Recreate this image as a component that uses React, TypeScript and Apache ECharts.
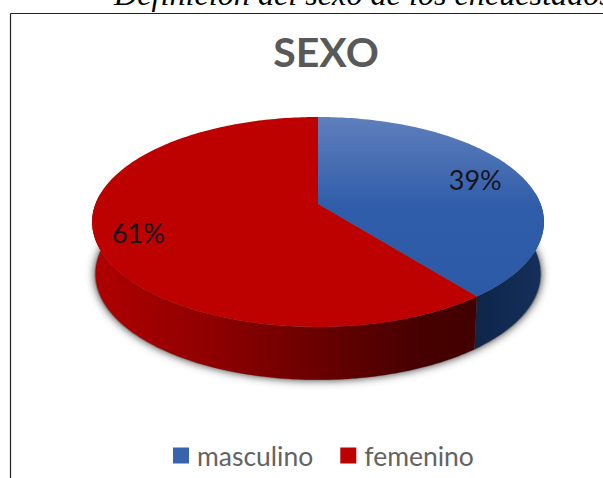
import React, { useEffect, useRef } from "react";
import * as echarts from "echarts";

const categories = ["masculino", "femenino"];
const values = [39.4, 60.6];
const labels = ["39%", "61%"];
const heading = "SEXO";
const caption = "Definición del sexo de los encuestados";

const total = values.reduce((a, b) => a + b, 0);
const CX = 318;
const CY = 204;
const K = -0.171;
const AY = 101.9;
const BX = 222.6;
const DEPTH = 51.6;
const AY_LOW = 103;
const X_LOW = 0.985;
const LABEL_R = [0.78, 0.815];

function project(deg: number, r = 1, low = false): [number, number] {
  const a = (deg * Math.PI) / 180;
  const X = Math.sin(a) * r;
  const Y = -Math.cos(a) * r;
  const w = 1 + K * Y;
  if (low) return [CX + (BX * X_LOW * X) / w, CY + DEPTH + (AY_LOW * Y) / w];
  return [CX + (BX * X) / w, CY + (AY * Y) / w];
}

function arcPoints(from: number, to: number, low: boolean) {
  const pts: [number, number][] = [];
  const steps = Math.max(2, Math.ceil(Math.abs(to - from)));
  for (let i = 0; i <= steps; i++) pts.push(project(from + ((to - from) * i) / steps, 1, low));
  return pts;
}

const topFill = [
  new echarts.graphic.LinearGradient(0, 0, 0, 1, [
    { offset: 0, color: "#5f7fbc" },
    { offset: 0.5, color: "#305da9" },
    { offset: 1, color: "#2c5aa6" },
  ]),
  "#bd0000",
];
const sideFill = [
  new echarts.graphic.LinearGradient(0, 0, 1, 0, [
    { offset: 0, color: "#0f2548" },
    { offset: 1, color: "#14305c" },
  ]),
  new echarts.graphic.LinearGradient(0, 0, 1, 0, [
    { offset: 0, color: "#b00000" },
    { offset: 0.3, color: "#900000" },
    { offset: 0.6, color: "#680000" },
    { offset: 0.85, color: "#470000" },
    { offset: 1, color: "#420000" },
  ]),
];
const legendFill = ["#3a63ad", "#bd0000"];

function makeSeries(index: number) {
  const before = values.slice(0, index).reduce((a, b) => a + b, 0);
  return {
    type: "custom",
    name: categories[index],
    coordinateSystem: "none",
    itemStyle: { color: legendFill[index] },
    data: [values[index]],
    renderItem: (_: any, api: any) => {
      const start = (before / total) * 360;
      const end = start + (api.value(0) / total) * 360;
      const children: any[] = [];
      if (index === 0) {
        const ring = arcPoints(0, 360, true).map(([x, y]) => [CX + (x - CX) * 1.004, y + 0.5]);
        children.push({
          type: "polygon",
          shape: { points: ring },
          style: { fill: "#777777", shadowBlur: 8, shadowColor: "#444444" },
        });
      }
      const visFrom = Math.max(start, 84);
      const visTo = Math.min(end, 276);
      if (visTo > visFrom) {
        children.push({
          type: "polygon",
          shape: {
            points: [...arcPoints(visFrom, visTo, false), ...arcPoints(visTo, visFrom, true)],
          },
          style: { fill: sideFill[index] },
        });
      }
      children.push({
        type: "polygon",
        shape: { points: [[CX, CY], ...arcPoints(start, end, false)] },
        style: { fill: topFill[index] },
      });
      const [lx, ly] = project((start + end) / 2, LABEL_R[index]);
      children.push({
        type: "text",
        style: {
          x: lx,
          y: ly,
          text: labels[index],
          fill: "#14141c",
          font: "27px Lato",
          align: "center",
          verticalAlign: "middle",
        },
      });
      return { type: "group", children };
    },
  };
}

export default function App() {
  const ref = useRef<HTMLDivElement>(null);
  useEffect(() => {
    const chart = echarts.init(ref.current!, undefined, { renderer: "svg" });
    chart.setOption({
      animation: false,
      backgroundColor: "#ffffff",
      title: {
        text: heading,
        left: 321,
        top: 26,
        textAlign: "center",
        textStyle: { color: "#595959", fontFamily: "Lato", fontWeight: "bold", fontSize: 41 },
      },
      legend: {
        data: categories,
        left: 168,
        top: 437,
        icon: "rect",
        itemWidth: 16,
        itemHeight: 16,
        itemGap: 27,
        selectedMode: false,
        textStyle: { color: "#636363", fontFamily: "Lato", fontSize: 26.5, padding: [0, 0, 4, 3] },
      },
      graphic: [
        {
          type: "text",
          x: 114,
          y: -22.5,
          style: {
            text: caption,
            fill: "#000000",
            font: "italic 32.2px 'Liberation Serif'",
          },
        },
        { type: "line", shape: { x1: 10.5, y1: 13.5, x2: 603, y2: 13.5 }, style: { stroke: "#222222", lineWidth: 1.2 } },
        { type: "line", shape: { x1: 10.5, y1: 13.5, x2: 10.5, y2: 478 }, style: { stroke: "#222222", lineWidth: 1.2 } },
      ],
      series: values.map((_, i) => makeSeries(i)),
    });
    return () => chart.dispose();
  }, []);
  return <div ref={ref} style={{ position: "fixed", left: 0, top: 0, width: 603, height: 478 }} />;
}
